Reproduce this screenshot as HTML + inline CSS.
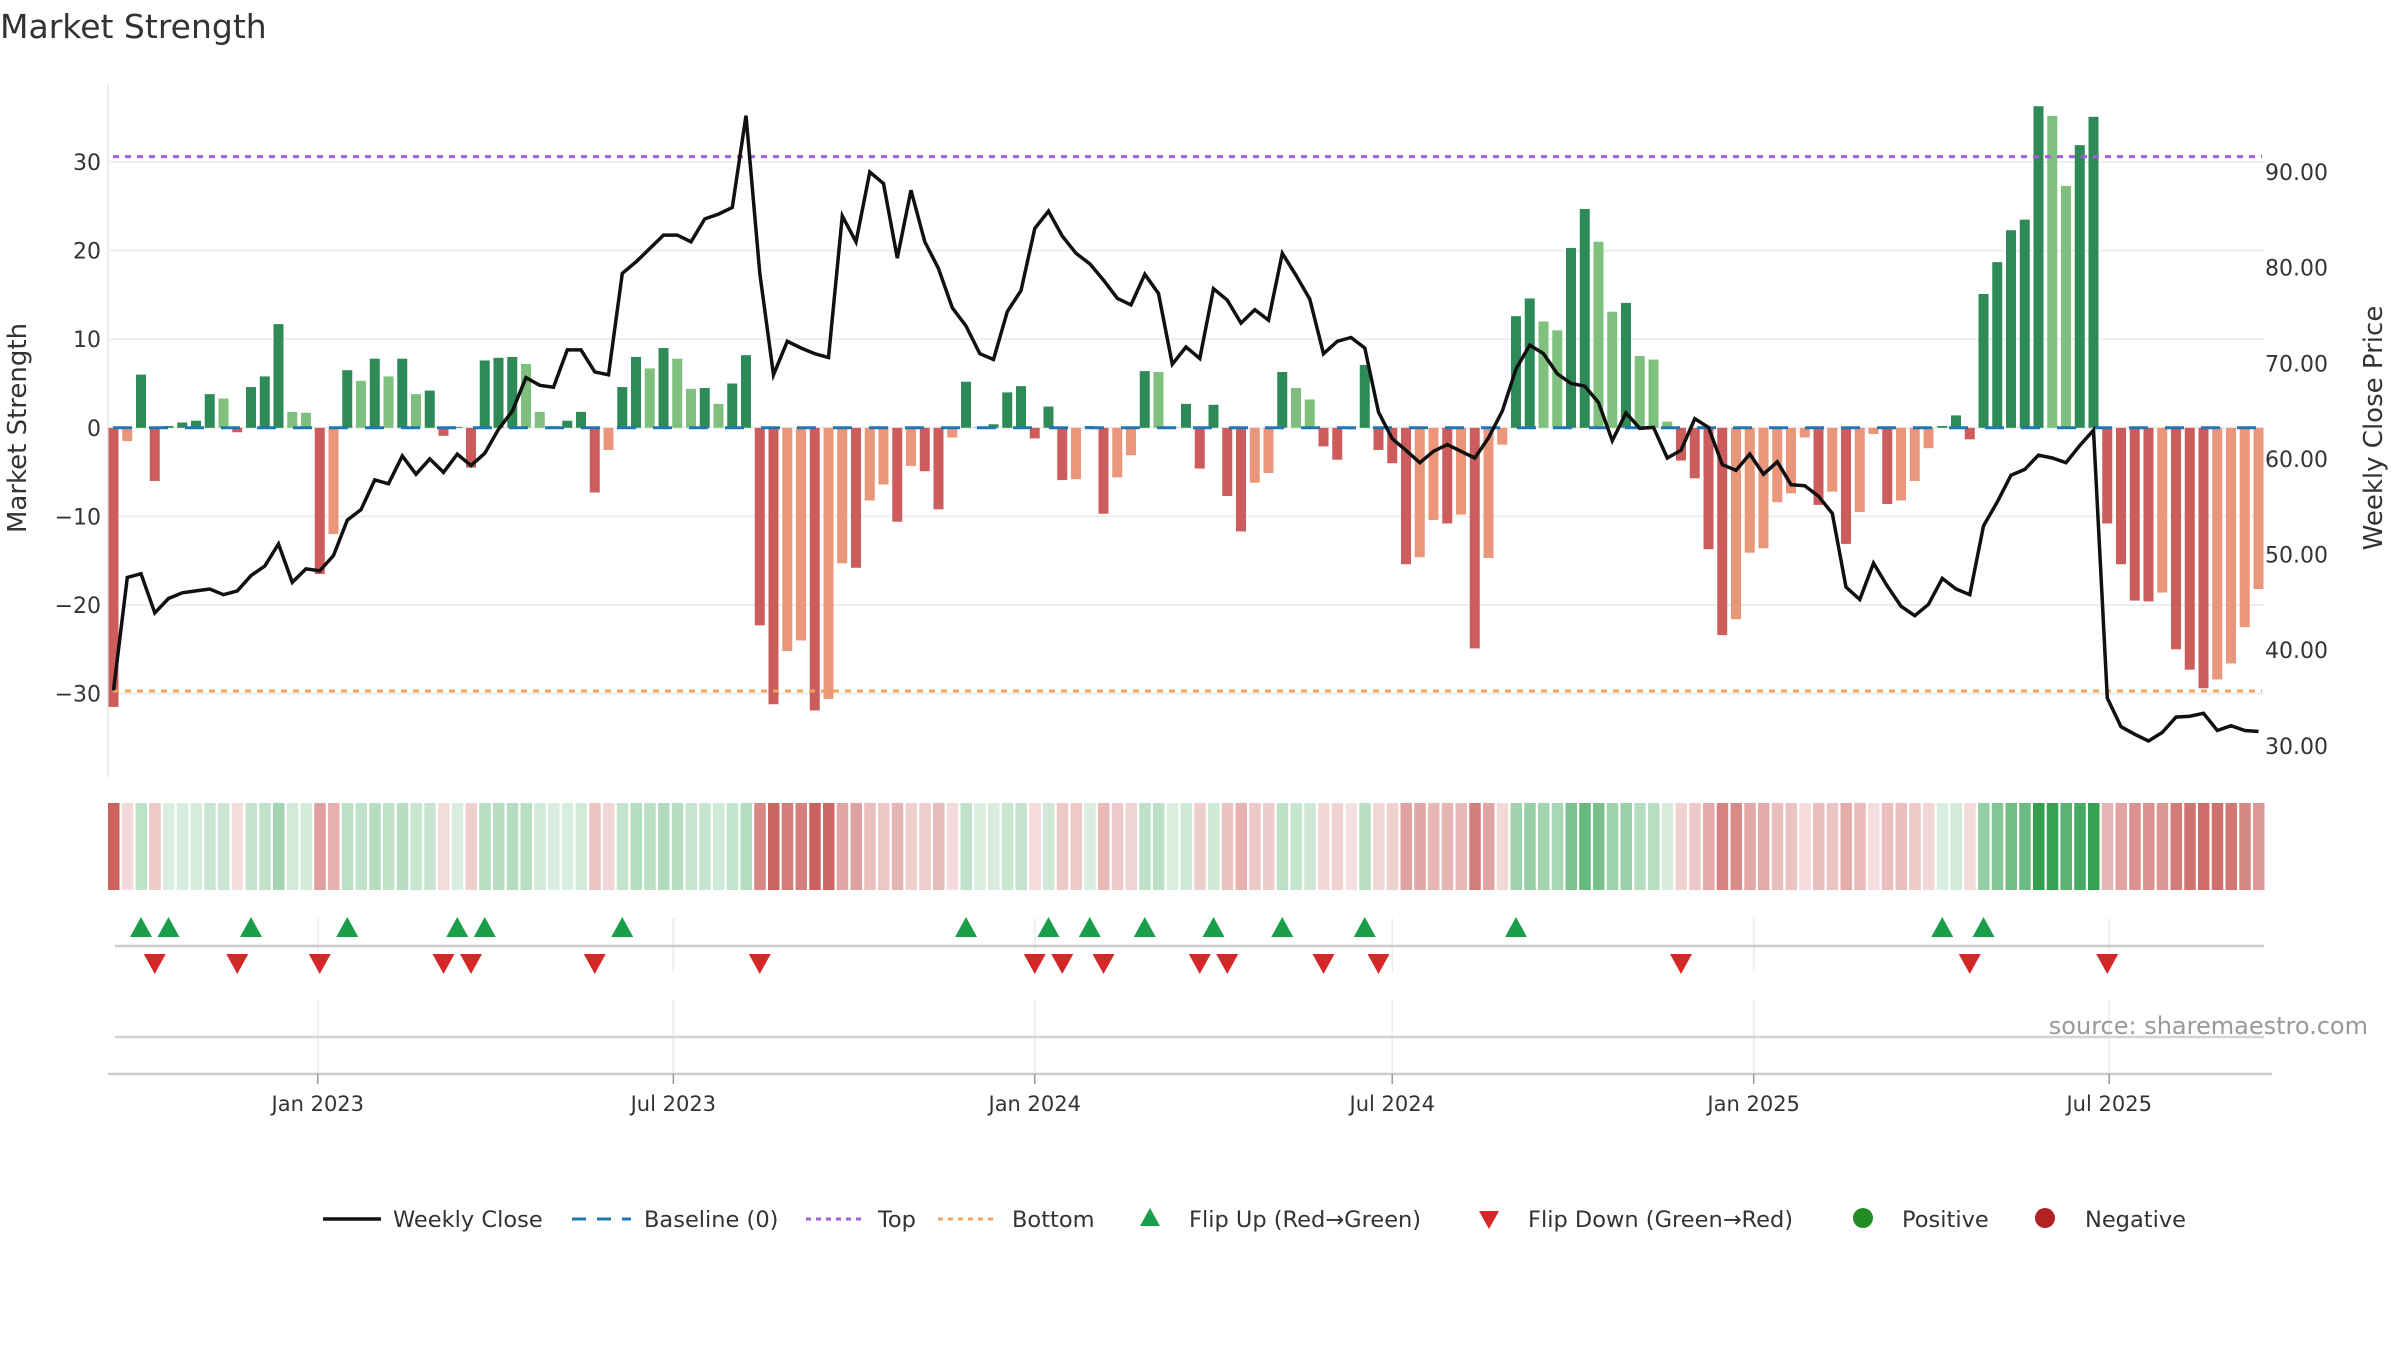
<!DOCTYPE html>
<html><head><meta charset="utf-8"><title>Market Strength</title>
<style>
html,body{margin:0;padding:0;background:#fff;}
svg{display:block;font-family:"DejaVu Sans","Liberation Sans",sans-serif;}
</style></head>
<body>
<svg id="chart" width="2400" height="1350" viewBox="0 0 2400 1350" xmlns="http://www.w3.org/2000/svg">
<text x="0" y="38" font-size="33" fill="#333">Market Strength</text>
<g id="main"></g>
<g id="heat"></g>
<g id="flips"></g>
<g id="xaxis"></g>
<text x="2368" y="1034" font-size="24" fill="#999" text-anchor="end">source: sharemaestro.com</text>
<g id="legend"></g>
</svg>
<script>
const startDate = "2022-09-19";
const strengthValues = [-31.5,-1.5,6,-6,0.2,0.6,0.8,3.8,3.3,-0.5,
4.6,5.8,11.7,1.8,1.7,-16.5,-12,6.5,5.3,7.8,
5.8,7.8,3.8,4.2,-0.9,0.1,-4.5,7.6,7.9,8.0,
7.2,1.8,0.2,0.8,1.8,-7.3,-2.5,4.6,8,6.7,
9,7.8,4.4,4.5,2.7,5,8.2,-22.3,-31.2,-25.2,
-24,-31.9,-30.6,-15.3,-15.8,-8.2,-6.4,-10.6,-4.3,-4.9,
-9.2,-1.1,5.2,0.1,0.4,4.0,4.7,-1.2,2.4,-5.9,
-5.8,0.2,-9.7,-5.6,-3.1,6.4,6.3,0.1,2.7,-4.6,
2.6,-7.7,-11.7,-6.2,-5.1,6.3,4.5,3.2,-2.1,-3.6,
-0.2,7.1,-2.5,-4.0,-15.4,-14.6,-10.4,-10.8,-9.8,-24.9,
-14.7,-1.9,12.6,14.6,12.0,11.0,20.3,24.7,21,13.1,
14.1,8.1,7.7,0.7,-3.7,-5.7,-13.7,-23.4,-21.6,-14.1,
-13.6,-8.4,-7.4,-1.1,-8.7,-7.2,-13.1,-9.5,-0.7,-8.6,
-8.2,-6.0,-2.3,0.2,1.4,-1.3,15.1,18.7,22.3,23.5,
36.3,35.2,27.3,31.9,35.1,-10.8,-15.4,-19.5,-19.6,-18.6,
-25,-27.3,-29.4,-28.4,-26.6,-22.5,-18.2];
const weeklyClose = [35.8,47.6,48.0,43.9,45.4,46.0,46.2,46.4,45.8,46.2,
47.8,48.8,51.1,47.1,48.5,48.3,49.9,53.6,54.7,57.8,
57.4,60.3,58.4,60.0,58.6,60.5,59.3,60.6,63.1,65.0,
68.5,67.7,67.5,71.4,71.4,69.1,68.8,79.4,80.6,82.0,
83.4,83.4,82.7,85.1,85.6,86.3,95.9,79.4,68.8,72.3,
71.6,71.0,70.6,85.4,82.7,90.0,88.8,81.0,88.1,82.7,
79.9,75.8,73.9,71.0,70.4,75.4,77.6,84.1,85.9,83.3,
81.5,80.4,78.7,76.8,76.1,79.3,77.3,69.9,71.7,70.5,
77.8,76.6,74.2,75.6,74.5,81.5,79.2,76.7,71.0,72.3,
72.7,71.6,64.9,62.1,60.9,59.6,60.8,61.5,60.8,60.1,
62.2,65.0,69.4,71.9,71.0,68.9,67.9,67.6,65.9,61.9,
64.8,63.2,63.3,60.1,60.9,64.2,63.3,59.4,58.8,60.5,
58.4,59.7,57.3,57.2,56.1,54.3,46.6,45.3,49.1,46.7,
44.6,43.6,44.8,47.5,46.4,45.8,53.0,55.5,58.3,58.9,
60.4,60.1,59.6,61.4,63.0,35.0,32.0,31.2,30.5,31.4,
33.0,33.1,33.4,31.6,32.1,31.6,31.5];
const topLevel = 30.6;
const bottomLevel = -29.7;
const leftTicks = [-30,-20,-10,0,10,20,30];
const rightTicks = [30,40,50,60,70,80,90];
const xTickDates = ["2023-01-01","2023-07-01","2024-01-01","2024-07-01","2025-01-01","2025-07-01"];
const xTickLabels = ["Jan 2023","Jul 2023","Jan 2024","Jul 2024","Jan 2025","Jul 2025"];

const NS = "http://www.w3.org/2000/svg";
function mk(tag, attrs, parent){const e=document.createElementNS(NS,tag);for(const k in attrs)e.setAttribute(k,attrs[k]);parent.appendChild(e);return e;}
const DAY=86400000, t0=Date.parse(startDate);
const STEP=13.75;
function xDate(d){return 113.5+STEP*((Date.parse(d)-t0)/DAY)/7;}
function xIdx(i){return 113.5+STEP*i;}
function yL(v){return 427.8-v*8.86;}
function yR(p){return 745.8-(p-30)*9.563;}
function mixColor(hex,t){const r=parseInt(hex.substr(1,2),16),g=parseInt(hex.substr(3,2),16),b=parseInt(hex.substr(5,2),16);
  const m=c=>Math.round(255+(c-255)*t);return "rgb("+m(r)+","+m(g)+","+m(b)+")";}

const main=document.getElementById('main');
let e=mk('line',{x1:108,y1:85,x2:108,y2:777,stroke:'#ebebeb','stroke-width':2},main);


leftTicks.forEach(v=>{
  const g=mk('line',{x1:110,x2:2265,y1:yL(v),y2:yL(v),stroke:'#eeeeee','stroke-width':2},main);
  
  
  const t=mk('text',{x:101,y:yL(v)+8,'font-size':22,fill:'#333','text-anchor':'end'},main);
  t.textContent=(v<0?'\u2212':'')+Math.abs(v);
  
  
});
rightTicks.forEach(p=>{
  const t=mk('text',{x:2265,y:yR(p)+8,'font-size':22,fill:'#333'},main);
  t.textContent=p.toFixed(2);
  
  
});
e=mk('text',{x:0,y:0,'font-size':26,fill:'#333','text-anchor':'middle',transform:'translate(26,428) rotate(-90)'},main);
e.textContent='Market Strength';


e=mk('text',{x:0,y:0,'font-size':26,fill:'#333','text-anchor':'middle',transform:'translate(2382,428) rotate(-90)'},main);
e.textContent='Weekly Close Price';



strengthValues.forEach((v,i)=>{
  const prev=i>0?strengthValues[i-1]:null;
  let dark;
  if(v>=0) dark = prev===null || v>prev; else dark = prev===null || v<prev;
  const col = v>=0 ? (dark?'#2e8b57':'#7fc07f') : (dark?'#cd5c5c':'#e9967a');
  const y1=yL(Math.max(v,0)), y2=yL(Math.min(v,0));
  const b=mk('rect',{x:xIdx(i)-5,y:y1,width:10,height:Math.max(y2-y1,0.5),fill:col},main);
  
  
});
e=mk('line',{x1:113,x2:2262,y1:yL(0),y2:yL(0),stroke:'#1f77b4','stroke-width':3,'stroke-dasharray':'19 17'},main);


e=mk('line',{x1:113,x2:2262,y1:yL(topLevel),y2:yL(topLevel),stroke:'#a25ddc','stroke-width':3,'stroke-dasharray':'6 6'},main);


e=mk('line',{x1:113,x2:2262,y1:yL(bottomLevel),y2:yL(bottomLevel),stroke:'#f4a460','stroke-width':3,'stroke-dasharray':'6 6'},main);


const pts=weeklyClose.map((p,i)=>xIdx(i).toFixed(1)+','+yR(p).toFixed(1)).join(' ');
e=mk('polyline',{points:pts,fill:'none',stroke:'#111','stroke-width':3.5,'stroke-linejoin':'miter'},main);



const heat=document.getElementById('heat');
strengthValues.forEach((v,i)=>{
  const t=0.17+0.8*Math.min(Math.abs(v)/36.3,1);
  const c=v>=0?mixColor('#2a9d48',t):mixColor('#c24b47',t);
  const r=mk('rect',{x:xIdx(i)-5.5,y:803,width:11.5,height:87,fill:c},heat);
  
  
});

const flips=document.getElementById('flips');
const xa=document.getElementById('xaxis');
xTickDates.forEach(d=>{
  const x=xDate(d);
  let g=mk('line',{x1:x,x2:x,y1:918,y2:972,stroke:'#ececec','stroke-width':1.5},flips);
  
  
  g=mk('line',{x1:x,x2:x,y1:1000,y2:1074,stroke:'#ececec','stroke-width':1.5},xa);
  
  
});
e=mk('line',{x1:115,x2:2264,y1:946,y2:946,stroke:'#cccccc','stroke-width':2.5},flips);


for(let i=1;i<strengthValues.length;i++){
  const a=strengthValues[i-1], b=strengthValues[i];
  const x=xIdx(i);
  if(a<=0 && b>0){
    const t=mk('polygon',{points:`${x-11},937 ${x+11},937 ${x},917`,fill:'#1a9e4a'},flips);
    
    
  } else if(a>0 && b<=0){
    const t=mk('polygon',{points:`${x-11},954 ${x+11},954 ${x},974`,fill:'#d62728'},flips);
    
    
  }
}

e=mk('line',{x1:115,x2:2264,y1:1037,y2:1037,stroke:'#d4d4d4','stroke-width':2.5},xa);


e=mk('line',{x1:108,x2:2272,y1:1074,y2:1074,stroke:'#cccccc','stroke-width':2.5},xa);


xTickDates.forEach((d,k)=>{
  const x=xDate(d);
  const tk=mk('line',{x1:x,x2:x,y1:1074,y2:1084,stroke:'#999','stroke-width':1.5},xa);
  
  
  const t=mk('text',{x:x,y:1111,'font-size':21,fill:'#333','text-anchor':'middle'},xa);
  t.textContent=xTickLabels[k];
  
  
});

const lg=document.getElementById('legend');
const ly=1219;
function ltext(x,s,name){const t=mk('text',{x:x,y:ly+8,'font-size':22.5,fill:'#333'},lg);t.textContent=s;
  
  }
e=mk('line',{x1:323,x2:381,y1:ly,y2:ly,stroke:'#111','stroke-width':3.5},lg);


ltext(393,'Weekly Close','legend-weekly-close');
e=mk('line',{x1:572,x2:631,y1:ly,y2:ly,stroke:'#1f77b4','stroke-width':3,'stroke-dasharray':'14 11'},lg);


ltext(644,'Baseline (0)','legend-baseline');
e=mk('line',{x1:806,x2:864,y1:ly,y2:ly,stroke:'#a25ddc','stroke-width':3,'stroke-dasharray':'5 5'},lg);


ltext(878,'Top','legend-top');
e=mk('line',{x1:938,x2:997,y1:ly,y2:ly,stroke:'#f4a460','stroke-width':3,'stroke-dasharray':'5 5'},lg);


ltext(1012,'Bottom','legend-bottom');
e=mk('polygon',{points:`1140,${ly+7} 1160,${ly+7} 1150,${ly-11}`,fill:'#1a9e4a'},lg);


ltext(1189,'Flip Up (Red\u2192Green)','legend-flip-up');
e=mk('polygon',{points:`1479,${ly-8} 1499,${ly-8} 1489,${ly+10}`,fill:'#d62728'},lg);


ltext(1528,'Flip Down (Green\u2192Red)','legend-flip-down');
e=mk('circle',{cx:1863,cy:ly-1,r:10,fill:'#228b22'},lg);


ltext(1902,'Positive','legend-positive');
e=mk('circle',{cx:2045,cy:ly-1,r:10,fill:'#b22222'},lg);


ltext(2085,'Negative','legend-negative');
</script>
</body></html>
